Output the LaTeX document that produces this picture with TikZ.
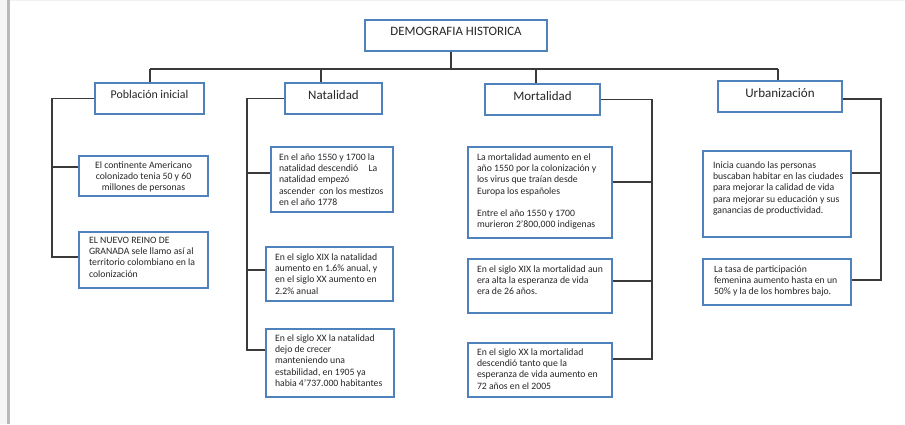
\documentclass[tikz,border=0pt]{standalone}
\usepackage{fontspec}
\setmainfont{Carlito}
\newlength\pxu \setlength\pxu{0.75pt}
% header text: W H baseline size text
\newcommand\hdr[5]{\parbox[c][#2\pxu][t]{#1\pxu}{\fontsize{#4}{12}\selectfont\vspace*{\dimexpr#3\pxu-8pt\relax}\centering\rule{0pt}{8pt}#5}}
% left text: W H baseline leftmargin text
\newcommand\ltx[5]{\parbox[c][#2\pxu][t]{#1\pxu}{\fontsize{7.3}{8.5}\selectfont\vspace*{\dimexpr#3\pxu-8pt\relax}\raggedright\leftskip=#4\pxu\relax\rule{0pt}{8pt}#5}}
% centred text: W H baseline text
\newcommand\ctx[4]{\parbox[c][#2\pxu][t]{#1\pxu}{\fontsize{7.3}{8.5}\selectfont\vspace*{\dimexpr#3\pxu-8pt\relax}\centering\rule{0pt}{8pt}#4}}
\definecolor{boxblue}{HTML}{4F81BD}
\definecolor{connc}{HTML}{3A3A3A}
\definecolor{txt}{HTML}{262626}
\begin{document}
\begin{tikzpicture}[x=0.75pt,y=-0.75pt,
  box/.style={draw=boxblue, line width=1.4pt, inner sep=0pt, fill=white, text=txt},
  conn/.style={draw=connc, line width=1.1pt}]
\useasboundingbox (0,0) rectangle (905,424);
\fill[gray!8] (0,0) rectangle (7,424);
\fill[gray!55] (7,0) rectangle (10,424);
\fill[gray!10] (10,0) rectangle (905,1.2);

% top level
\node[box] (title) at (456,35.5) {\hdr{182}{31}{16}{9.6}{DEMOGRAFIA HISTORICA}};
\node[box] (pob) at (149.5,98.5) {\hdr{109}{31}{15.7}{8.9}{Población inicial}};
\node[box] (nat) at (333.5,98.5) {\hdr{97}{31}{16.4}{9.7}{Natalidad}};
\node[box] (mor) at (542.5,99.5) {\hdr{115}{31}{16.1}{9.7}{Mortalidad}};
\node[box] (urb) at (780,96.5) {\hdr{124}{31}{16.1}{9.8}{Urbanización}};

% Poblacion
\node[box] (pob1) at (143.5,176) {\ctx{129}{40}{12}{El continente Americano\\colonizado tenia 50 y 60\\millones de personas}};
\node[box] (pob2) at (143.5,260) {\ltx{129}{56}{11}{10}{EL NUEVO REINO DE\\GRANADA sele llamo así al\\territorio colombiano en la\\colonización}};

% Natalidad
\node[box] (nat1) at (332,179.5) {\ltx{122}{65}{13}{8}{En el año 1550 y 1700 la\\natalidad descendió\hspace{6pt} La\\natalidad empezó\\ascender\ \ con los mestizos\\en el año 1778}};
\node[box] (nat2) at (329.5,274) {\ltx{127}{54}{13}{9}{En el siglo XIX la natalidad\\aumento en 1.6\% anual, y\\en el siglo XX aumento en\\2.2\% anual}};
\node[box] (nat3) at (330,363) {\ltx{128}{68}{12}{9}{En el siglo XX la natalidad\\dejo de crecer\\manteniendo una\\estabilidad, en 1905 ya\\habia 4'737.000 habitantes}};

% Mortalidad
\node[box] (mor1) at (540,192.5) {\ltx{144}{91}{13}{9}{La mortalidad aumento en el\\año 1550 por la colonización y\\los virus que traían desde\\Europa los españoles\\[8pt]Entre el año 1550 y 1700\\murieron 2'800,000 indigenas}};
\node[box] (mor2) at (540,286) {\ltx{144}{54}{13}{9}{En el siglo XIX la mortalidad aun\\era alta la esperanza de vida\\era de 26 años.}};
\node[box] (mor3) at (540,370) {\ltx{144}{54}{12}{9}{En el siglo XX la mortalidad\\descendió tanto que la\\esperanza de vida aumento en\\72 años en el 2005}};

% Urbanizacion
\node[box] (urb1) at (777,194) {\ltx{148}{86}{17}{10}{Inicia cuando las personas\\buscaban habitar en las ciudades\\para mejorar la calidad de vida\\para mejorar su educación y sus\\ganancias de productividad.}};
\node[box] (urb2) at (777,282) {\ltx{148}{46}{13}{11}{La tasa de participación\\femenina aumento hasta en un\\50\% y la de los hombres bajo.}};

% bus
\coordinate (bL) at (150,69);
\coordinate (bN) at (321,69);
\coordinate (bM) at (536,69);
\coordinate (bR) at (778,69);
\draw[conn] ([xshift=-3.75pt]title.south) -- ([xshift=-3.75pt]title.south |- bL);
\draw[conn] (bL) -- (bR);
\draw[conn] (bL) -- (bL |- pob.north);
\draw[conn] (bN) -- (bN |- nat.north);
\draw[conn] (bM) -- (bM |- mor.north);
\draw[conn] (bR) -- (bR |- urb.north);

% Poblacion trunk
\coordinate (p1) at (52,167);
\coordinate (p2) at (52,257);
\draw[conn] (pob.west) -| (p2) -- (p2 -| pob2.west);
\draw[conn] (p1) -- (p1 -| pob1.west);

% Natalidad trunk
\coordinate (n1) at (247,173);
\coordinate (n2) at (247,270);
\coordinate (n3) at (247,350);
\draw[conn] (nat.west) -| (n3) -- (n3 -| nat3.west);
\draw[conn] (n1) -- (n1 -| nat1.west);
\draw[conn] (n2) -- (n2 -| nat2.west);

% Mortalidad trunk
\coordinate (m1) at (652,182);
\coordinate (m2) at (652,281);
\coordinate (m3) at (652,359);
\draw[conn] (mor.east) -| (m3) -- (m3 -| mor3.east);
\draw[conn] (m1) -- (m1 -| mor1.east);
\draw[conn] (m2) -- (m2 -| mor2.east);

% Urbanizacion trunk
\coordinate (uT) at (881,99);
\coordinate (u1) at (881,173);
\coordinate (u2) at (881,280);
\draw[conn] (uT -| urb.east) -- (uT) -- (u2) -- (u2 -| urb2.east);
\draw[conn] (u1) -- (u1 -| urb1.east);
\end{tikzpicture}
\end{document}
